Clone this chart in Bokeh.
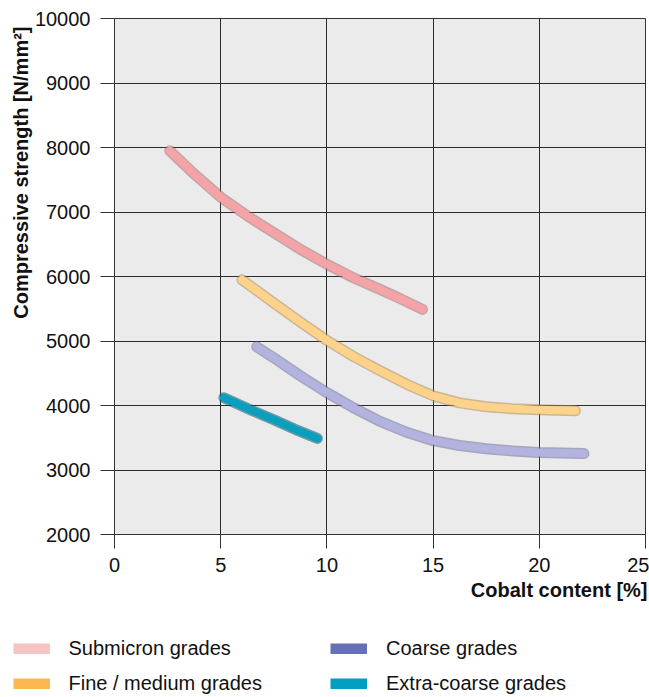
from bokeh.plotting import figure
from bokeh.layouts import column
from bokeh.models import Range1d, Legend, LegendItem, Title, FixedTicker
from bokeh.embed import file_html
from bokeh.resources import INLINE

# ---- data ----
submicron_x = [2.6, 3.75, 5.0, 6.25, 7.5, 8.75, 10.0, 11.25, 12.5, 13.5, 14.5]
submicron_y = [7950, 7590, 7230, 6940, 6680, 6420, 6190, 5980, 5800, 5650, 5490]

fine_x = [6.0, 7.5, 8.75, 10.0, 11.25, 12.5, 13.75, 15.0, 16.25, 17.5, 18.75, 20.0, 21.7]
fine_y = [5950, 5590, 5295, 5010, 4760, 4540, 4330, 4150, 4040, 3980, 3950, 3935, 3920]

coarse_x = [6.7, 7.5, 8.75, 10.0, 11.25, 12.5, 13.75, 15.0, 16.25, 17.5, 18.75, 20.0, 22.1]
coarse_y = [4910, 4740, 4460, 4200, 3965, 3755, 3585, 3455, 3380, 3330, 3295, 3270, 3255]

xcoarse_x = [5.15, 6.5, 7.5, 8.5, 9.55]
xcoarse_y = [4120, 3920, 3780, 3630, 3490]

x_ticks = [0, 5, 10, 15, 20, 25]
y_ticks = [2000, 3000, 4000, 5000, 6000, 7000, 8000, 9000, 10000]

series_labels = ["Submicron grades", "Fine / medium grades", "Coarse grades", "Extra-coarse grades"]
curve_colors = ["#f4a4a6", "#fdd38c", "#b3b3e0", "#0a9fbc"]
shade_colors = ["#a86a6c", "#b08a4c", "#6c6c98", "#005a70"]
legend_colors = ["#f6c4c2", "#fbb84f", "#6570b5", "#009ec2"]

FONT = "Liberation Sans"

p = figure(width=649, height=630, output_backend="svg", toolbar_location=None,
           x_range=Range1d(0, 25), y_range=Range1d(2000, 10000),
           min_border_left=114, min_border_top=18, min_border_right=4,
           min_border_bottom=96)

p.background_fill_color = "#ebebeb"
p.border_fill_color = "white"
p.outline_line_color = "#333333"
p.outline_line_width = 1

# grid
p.xgrid.ticker = FixedTicker(ticks=x_ticks)
p.ygrid.ticker = FixedTicker(ticks=y_ticks)
p.grid.grid_line_color = "#2a2a2a"
p.grid.grid_line_width = 1
p.grid.grid_line_alpha = 1.0

# axes
for ax in (p.xaxis[0], p.yaxis[0]):
    ax.axis_line_color = "#333333"
    ax.major_tick_line_color = "#333333"
    ax.major_tick_out = 14
    ax.major_tick_in = 0
    ax.minor_tick_line_color = None
    ax.major_label_text_font = FONT
    ax.major_label_text_font_size = "20px"
    ax.major_label_text_color = "#111111"
p.xaxis[0].ticker = FixedTicker(ticks=x_ticks)
p.yaxis[0].ticker = FixedTicker(ticks=y_ticks)
p.xaxis[0].major_label_standoff = 9
p.yaxis[0].major_label_standoff = 10

# axis titles
ytitle = Title(text="Compressive strength [N/mm\u00b2]", align="right", offset=8,
               text_font=FONT, text_font_size="20px", text_font_style="bold",
               text_color="#111111", standoff=0)
p.add_layout(ytitle, "left")
xtitle = Title(text="Cobalt content [%]", align="right", offset=-2,
               text_font=FONT, text_font_size="20px", text_font_style="bold",
               text_color="#111111", standoff=5)
p.add_layout(xtitle, "below")

# curves
all_x = [submicron_x, fine_x, coarse_x, xcoarse_x]
all_y = [submicron_y, fine_y, coarse_y, xcoarse_y]
for xs, ys, cc, sc in zip(all_x, all_y, curve_colors, shade_colors):
    p.line(xs, ys, line_color=sc, line_width=11, line_cap="round",
           line_join="round", line_alpha=0.55)
    p.line(xs, ys, line_color=cc, line_width=8, line_cap="round",
           line_join="round")

# ---- legend strip below the chart ----
lf = figure(width=649, height=67, output_backend="svg", toolbar_location=None,
            x_range=Range1d(-1, 0), y_range=Range1d(-1, 0),
            x_axis_type=None, y_axis_type=None,
            min_border=0, min_border_left=0, min_border_right=0,
            min_border_top=0, min_border_bottom=0)
lf.outline_line_color = None
lf.background_fill_color = "white"
lf.border_fill_color = "white"

for fig in (p, lf):
    try:
        fig.frame_align = False
    except Exception:
        pass

# legend key renderers: same series, drawn outside this strip's visible range
swatches = []
for xs, ys, lc in zip(all_x, all_y, legend_colors):
    r = lf.line(xs, ys, line_color=lc, line_width=11, line_cap="butt")
    swatches.append(r)

def make_legend(idx, loc):
    items = [LegendItem(label=series_labels[i], renderers=[swatches[i]]) for i in idx]
    return Legend(items=items, location=loc, orientation="vertical",
                  glyph_width=37, glyph_height=11, label_height=20,
                  label_standoff=19, spacing=12, padding=0, margin=0,
                  label_text_font=FONT, label_text_font_size="20px",
                  label_text_color="#111111",
                  border_line_alpha=0, background_fill_alpha=0)

lf.add_layout(make_legend([0, 1], (12.5, 2)), "center")
lf.add_layout(make_legend([2, 3], (330, 2)), "center")

layout = column(p, lf, spacing=0)
open("out.html", "w").write(file_html(layout, INLINE))
